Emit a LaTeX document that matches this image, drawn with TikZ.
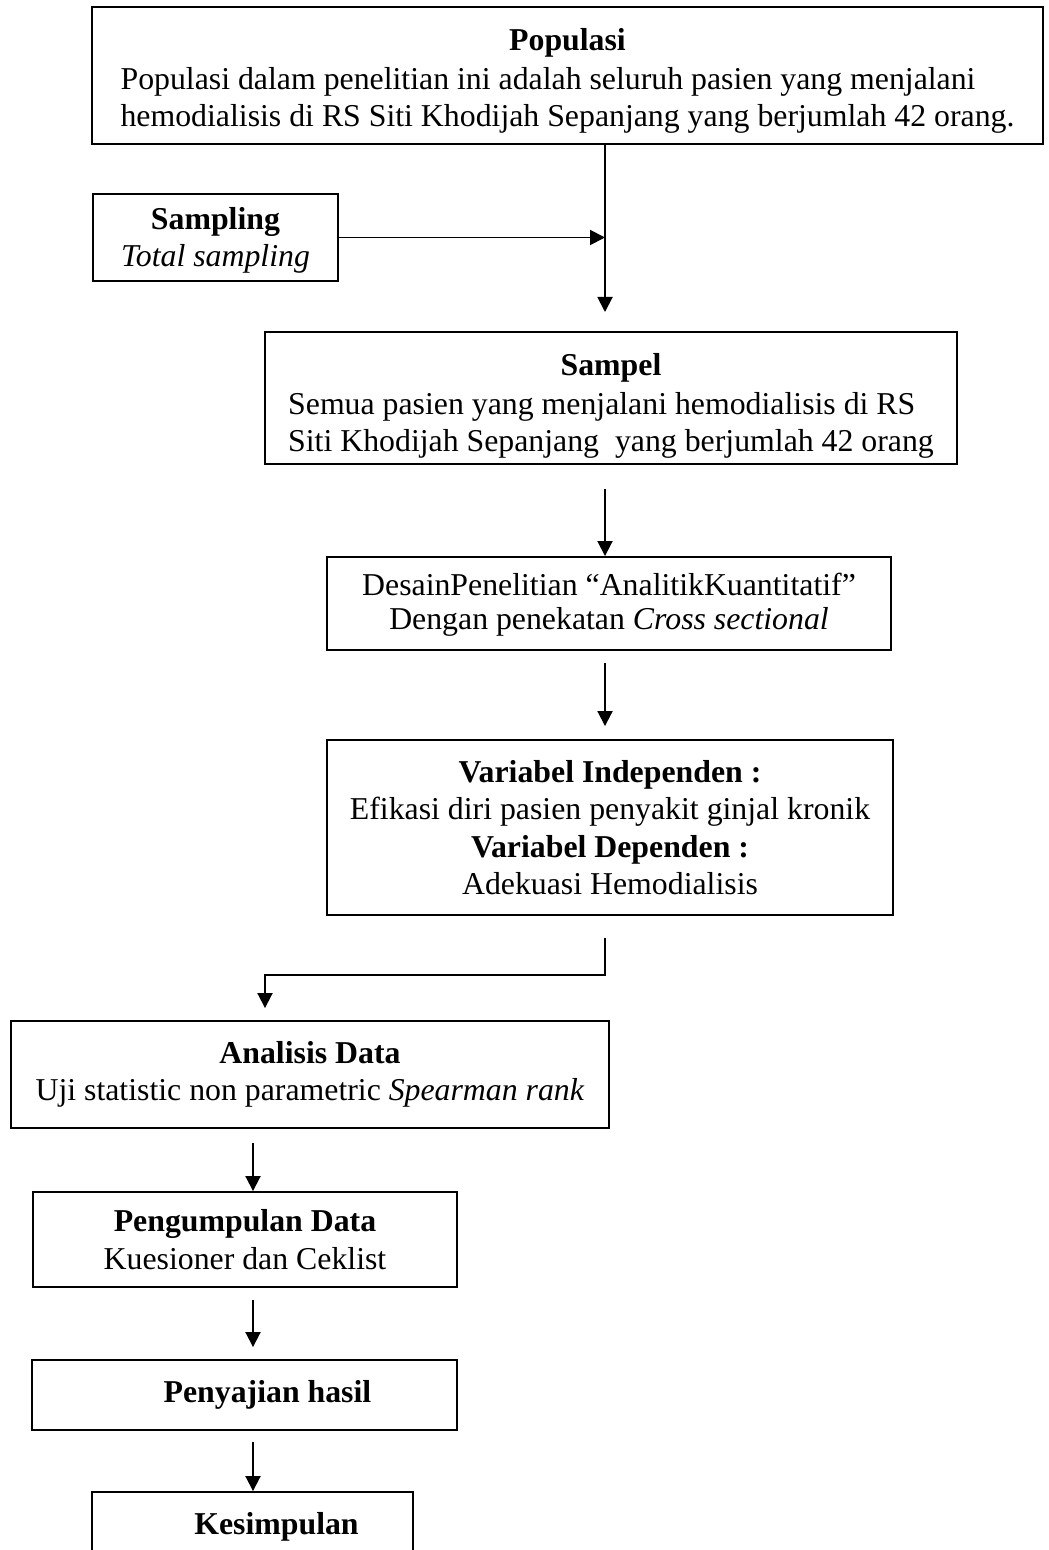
\documentclass[tikz,border=0pt]{standalone}
\usepackage{fontspec}
\setmainfont{Liberation Serif}
\usetikzlibrary{arrows.meta, positioning}

\begin{document}
\begin{tikzpicture}[x=0.02cm, y=-0.02cm, line width=1.1pt,
    >={Triangle[length=0.3cm, width=0.3cm]},
    box/.style={draw, rectangle, inner sep=0pt, align=center,
      font=\fontsize{18.1}{21.3}\selectfont},
    flow/.style={->}]
    \clip (0,0) rectangle (1048,1550);
    \fill[white] (0,0) rectangle (1048,1550);

    \node[box, minimum width=19.02cm, minimum height=2.74cm] (pop) at (567.5,75.5)
      {\begin{tabular}{@{}l@{}}\multicolumn{1}{@{}c@{}}{\rule{0pt}{21pt}\textbf{Populasi}}\\[1pt]
       Populasi dalam penelitian ini adalah seluruh pasien yang menjalani\\[0pt]
       hemodialisis di RS Siti Khodijah Sepanjang yang berjumlah 42 orang.\end{tabular}};
    \node[box, minimum width=4.9cm, minimum height=1.74cm] (samp) at (215.5,237.5)
      {\rule{0pt}{16pt}\textbf{Sampling}\\ \textit{Total sampling}};
    \node[box, minimum width=13.84cm, minimum height=2.64cm] (sampel) at (611,398)
      {\begin{tabular}{@{}l@{}}\multicolumn{1}{@{}c@{}}{\rule{0pt}{24pt}\textbf{Sampel}}\\[1pt]
       Semua pasien yang menjalani hemodialisis di RS\\[0pt]
       Siti Khodijah Sepanjang~ yang berjumlah 42 orang\end{tabular}};
    \node[box, minimum width=11.28cm, minimum height=1.86cm] (desain) at (609,603.5)
      {\rule{0pt}{14pt}DesainPenelitian “AnalitikKuantitatif”\\[-2pt] Dengan penekatan \textit{Cross sectional}};
    \node[box, minimum width=11.32cm, minimum height=3.5cm] (var) at (610,827.5)
      {\textbf{Variabel Independen :}\\ Efikasi diri pasien penyakit ginjal kronik\\
       \textbf{Variabel Dependen :}\\ Adekuasi Hemodialisis};
    \node[box, minimum width=11.96cm, minimum height=2.14cm] (anal) at (310,1074.5)
      {\textbf{Analisis Data}\\ Uji statistic non parametric \textit{Spearman rank}};
    \node[box, minimum width=8.48cm, minimum height=1.9cm] (kump) at (245,1239.5)
      {\textbf{Pengumpulan Data}\\ Kuesioner dan Ceklist};
    \node[box, minimum width=8.5cm, minimum height=1.4cm] (saji) at (244.5,1395)
      {\hspace*{0.92cm}\textbf{Penyajian hasil}};
    \node[box, minimum width=6.42cm, minimum height=1.4cm] (simp) at (252.5,1527)
      {\hspace*{0.96cm}\textbf{Kesimpulan}};

    \coordinate (j1) at (605,312);
    \coordinate (c1) at (605,975);
    \coordinate (c2) at (265,975);
    \coordinate (j2) at (253,1300);

    \draw[flow] (pop.south -| j1) -- (j1);
    \draw[flow] (samp.east) -- (samp.east -| j1);
    \draw[flow, shorten <=0.48cm] (sampel.south -| j1) -- (desain.north -| j1);
    \draw[flow, shorten <=0.24cm, shorten >=0.26cm] (desain.south -| j1) -- (var.north -| j1);
    \draw[flow, shorten <=0.44cm, shorten >=0.24cm] (var.south -| c1) -- (c1) -- (c2) -- (c2 |- anal.north);
    \draw[flow, shorten <=0.28cm] (anal.south -| j2) -- (kump.north -| j2);
    \draw[flow, shorten <=0.24cm, shorten >=0.24cm] (kump.south -| j2) -- (saji.north -| j2);
    \draw[flow, shorten <=0.22cm] (saji.south -| j2) -- (simp.north -| j2);
  \end{tikzpicture}
\end{document}
